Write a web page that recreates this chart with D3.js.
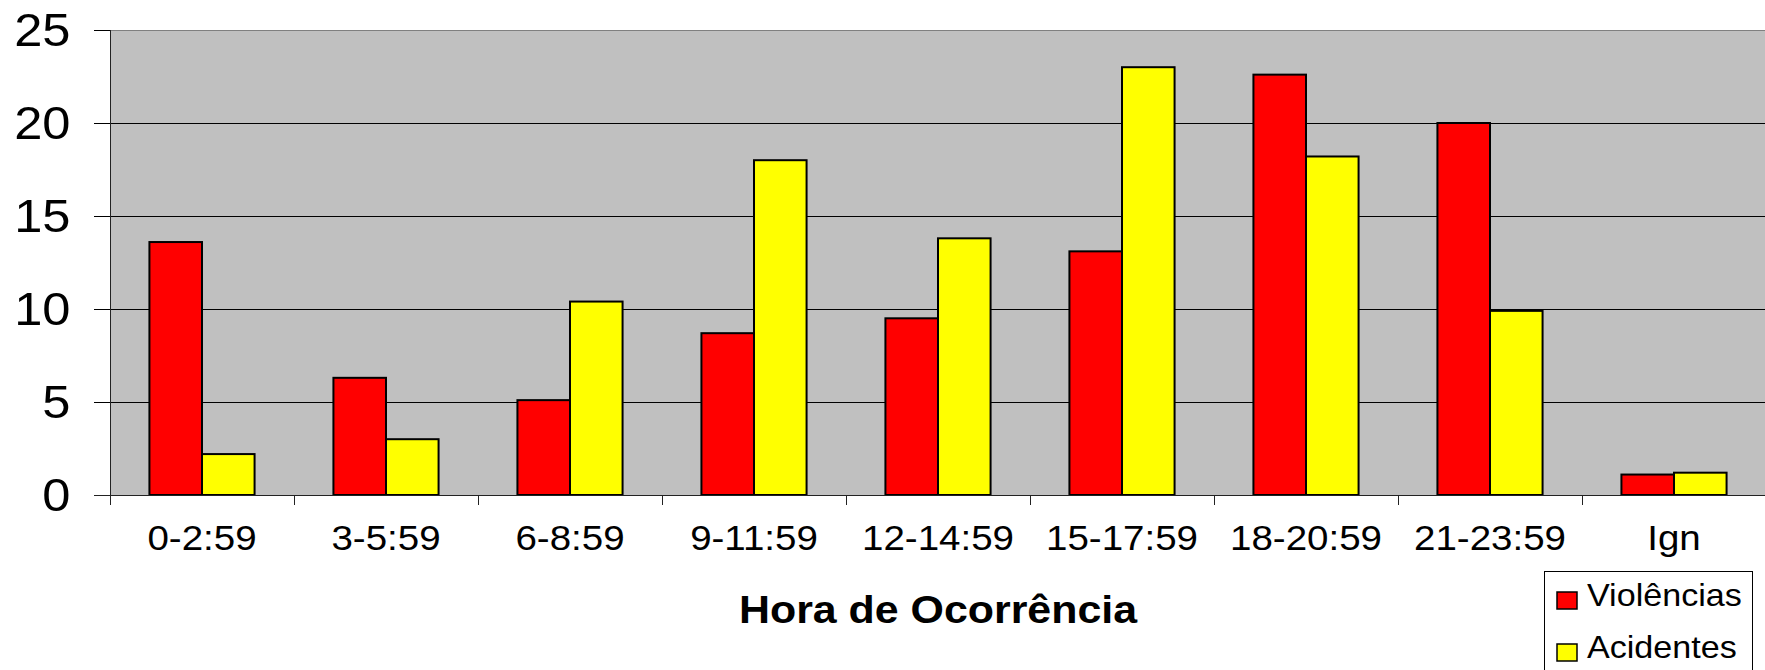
<!DOCTYPE html>
<html>
<head>
<meta charset="utf-8">
<script src="https://cdn.jsdelivr.net/npm/d3@7"></script>
<style>
  body { margin: 0; background: #fff; }
  text { font-family: "Liberation Sans", Arial, sans-serif; fill: #000; }
</style>
</head>
<body>
<div id="content"></div>
<script>
(function() {

// Data
var categories = ['0-2:59', '3-5:59', '6-8:59', '9-11:59', '12-14:59', '15-17:59', '18-20:59', '21-23:59', 'Ign'];
var seriesNames = ['Violências', 'Acidentes'];
var violencias = [13.6, 6.3, 5.1, 8.7, 9.5, 13.1, 22.6, 20.0, 1.1];
var acidentes = [2.2, 3.0, 10.4, 18.0, 13.8, 23.0, 18.2, 9.9, 1.2];
var yTicks = [0, 5, 10, 15, 20, 25];
var colors = ['#ff0000', '#ffff00'];

var W = 1765, H = 670;
var margin = {top: 30, right: -1, bottom: 175, left: 110},
    width = W - margin.left - margin.right,
    height = H - margin.top - margin.bottom;

var stretch = 'scale(1.1,1)';

var svg = d3.select('#content')
    .append('svg')
    .attr('width', W)
    .attr('height', H);

var g = svg.append('g')
    .attr('transform', 'translate(' + margin.left + ',' + margin.top + ')');

// scales
var x0 = d3.scaleBand().domain(categories).range([0, width]).padding(0);
var bw = x0.bandwidth();
// Excel style: gap of 150% of a bar between groups
var x1 = d3.scaleBand().domain(seriesNames).range([bw * 0.75 / 3.5, bw * 2.75 / 3.5]).padding(0);
var y = d3.scaleLinear().domain([0, 25]).range([height, 0]);

// plot background
g.append('rect')
    .attr('x', 0)
    .attr('y', 0)
    .attr('width', width)
    .attr('height', height)
    .attr('fill', '#c0c0c0');

// gridlines
g.selectAll('.grid')
    .data(yTicks.filter(function(d) { return d > 0; }))
    .enter().append('line')
    .attr('class', 'grid')
    .attr('x1', 0)
    .attr('x2', width)
    .attr('y1', function(d) { return Math.round(y(d)) + 0.5; })
    .attr('y2', function(d) { return Math.round(y(d)) + 0.5; })
    .attr('stroke', function(d) { return d === 25 ? '#808080' : '#000'; })
    .attr('stroke-width', 1);

// bars
var rows = categories.map(function(c, i) {
  return {cat: c, values: [violencias[i], acidentes[i]]};
});

var groups = g.selectAll('.grp')
    .data(rows)
    .enter().append('g')
    .attr('class', 'grp')
    .attr('transform', function(d) { return 'translate(' + x0(d.cat) + ',0)'; });

groups.selectAll('rect')
    .data(function(d) { return d.values.map(function(v, j) { return {name: seriesNames[j], v: v, j: j}; }); })
    .enter().append('rect')
    .attr('x', function(d) { return x1(d.name); })
    .attr('width', x1.bandwidth())
    .attr('y', function(d) { return y(d.v); })
    .attr('height', function(d) { return y(0) - y(d.v); })
    .attr('fill', function(d) { return colors[d.j]; })
    .attr('stroke', '#000')
    .attr('stroke-width', 2);

// y axis
var yAxis = g.append('g')
    .attr('class', 'yaxis')
    .call(d3.axisLeft(y).tickValues(yTicks).tickSize(16).tickPadding(20));
yAxis.select('.domain').remove();
yAxis.selectAll('line').attr('stroke', '#000');
yAxis.selectAll('text')
    .attr('transform', stretch)
    .style('font-size', '46px')
    .attr('dy', '0.34em');

// left axis line
g.append('line')
    .attr('x1', 0.5).attr('x2', 0.5)
    .attr('y1', 0).attr('y2', height + 10)
    .attr('stroke', '#222');

// x axis
var xAxis = g.append('g')
    .attr('class', 'xaxis')
    .attr('transform', 'translate(0,' + height + ')')
    .call(d3.axisBottom(x0).tickSize(0).tickPadding(30));
xAxis.select('.domain').remove();
xAxis.selectAll('text')
    .attr('transform', stretch)
    .style('font-size', '35px');

g.append('line')
    .attr('x1', -16).attr('x2', width)
    .attr('y1', height + 0.5).attr('y2', height + 0.5)
    .attr('stroke', '#222');

// category boundary ticks
g.selectAll('.ctick')
    .data(categories)
    .enter().append('line')
    .attr('class', 'ctick')
    .attr('x1', function(d) { return Math.round(x0(d)) + 0.5; })
    .attr('x2', function(d) { return Math.round(x0(d)) + 0.5; })
    .attr('y1', height)
    .attr('y2', height + 10)
    .attr('stroke', '#222');

// x axis title
svg.append('g')
    .attr('transform', 'translate(' + (margin.left + width / 2) + ',623)')
    .append('text')
    .attr('transform', stretch)
    .style('text-anchor', 'middle')
    .style('font-size', '39px')
    .style('font-weight', 'bold')
    .text('Hora de Ocorrência');

// legend
var legend = svg.append('g')
    .attr('transform', 'translate(1544,571)');

legend.append('rect')
    .attr('x', 0.5)
    .attr('y', 0.5)
    .attr('width', 208)
    .attr('height', 130)
    .attr('fill', '#fff')
    .attr('stroke', '#000');

var items = legend.selectAll('.item')
    .data(seriesNames)
    .enter().append('g')
    .attr('class', 'item')
    .attr('transform', function(d, i) { return 'translate(0,' + (i * 52) + ')'; });

items.append('rect')
    .attr('x', 13)
    .attr('y', 21)
    .attr('width', 20)
    .attr('height', 17)
    .attr('fill', function(d, i) { return colors[i]; })
    .attr('stroke', '#000')
    .attr('stroke-width', 1.5);

items.append('g')
    .attr('transform', 'translate(43,35)')
    .append('text')
    .attr('transform', stretch)
    .style('font-size', '31px')
    .text(function(d) { return d; });

})();
</script>
</body>
</html>
